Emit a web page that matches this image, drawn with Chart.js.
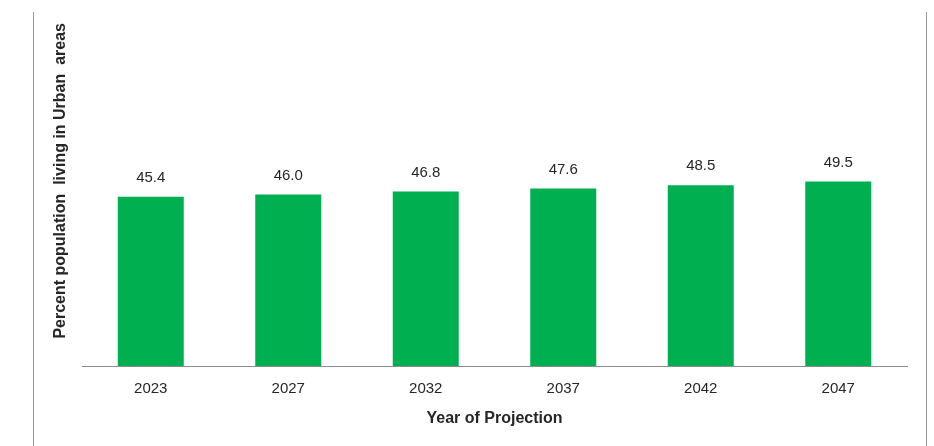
<!DOCTYPE html>
<html>
<head>
<meta charset="utf-8">
<script src="https://cdn.jsdelivr.net/npm/chart.js@4/dist/chart.umd.min.js"></script>
<style>
  html, body { margin: 0; padding: 0; background: #fff; }
  #wrap { width: 934px; height: 446px; position: relative; }
</style>
</head>
<body>
<div id="wrap"><canvas id="urbanChart"></canvas></div>
<script>
// ===== data =====
const years = ['2023', '2027', '2032', '2037', '2042', '2047'];
const urbanShare = [45.4, 46.0, 46.8, 47.6, 48.5, 49.5];
const xTitle = 'Year of Projection';
const yTitle = 'Percent population  living in Urban  areas';

const FONT = '"Liberation Sans", Arial, sans-serif';
const GREEN = '#00b050';
const INK = '#262626';

// value above each bar
const valueLabels = {
  id: 'valueLabels',
  afterDatasetsDraw(chart) {
    const ctx = chart.ctx;
    const meta = chart.getDatasetMeta(0);
    ctx.save();
    ctx.font = '15px ' + FONT;
    ctx.fillStyle = INK;
    ctx.textAlign = 'center';
    ctx.textBaseline = 'middle';
    meta.data.forEach((bar, i) => {
      ctx.fillText(urbanShare[i].toFixed(1), bar.x, bar.y - 19);
    });
    ctx.restore();
  }
};

// thin frame lines at the sides
const sideLines = {
  id: 'sideLines',
  beforeDraw(chart) {
    const ctx = chart.ctx;
    ctx.save();
    ctx.strokeStyle = '#9a9a9a';
    ctx.lineWidth = 1;
    ctx.beginPath();
    ctx.moveTo(33.5, 12); ctx.lineTo(33.5, 446);
    ctx.moveTo(926.5, 12); ctx.lineTo(926.5, 446);
    ctx.stroke();
    ctx.restore();
  }
};

new Chart(document.getElementById('urbanChart').getContext('2d'), {
  type: 'bar',
  data: {
    labels: years,
    datasets: [{
      data: urbanShare,
      backgroundColor: GREEN,
      borderWidth: 0,
      barPercentage: 0.48,
      categoryPercentage: 1
    }]
  },
  options: {
    responsive: true, maintainAspectRatio: false, animation: false,
    layout: { padding: { left: 51, right: 27, top: 23, bottom: 18 } },
    plugins: { legend: { display: false }, tooltip: { enabled: false } },
    scales: {
      x: {
        grid: { display: false },
        border: { display: true, color: '#8c8c8c', width: 1 },
        ticks: { color: INK, font: { family: FONT, size: 15 }, padding: 6 },
        title: { display: true, text: xTitle, color: INK, font: { family: FONT, size: 16, weight: 'bold' }, padding: { top: 0, bottom: 0 } },
        afterFit(scale) { scale.height = 62; }
      },
      y: {
        min: 0, max: 92,
        grid: { display: false },
        border: { display: false },
        ticks: { display: false },
        title: { display: true, text: yTitle, align: 'end', color: INK, font: { family: FONT, size: 16, weight: 'bold' }, padding: { top: 0, bottom: 0 } },
        afterFit(scale) { scale.width = 31; }
      }
    }
  },
  plugins: [valueLabels, sideLines]
});
</script>
</body>
</html>
